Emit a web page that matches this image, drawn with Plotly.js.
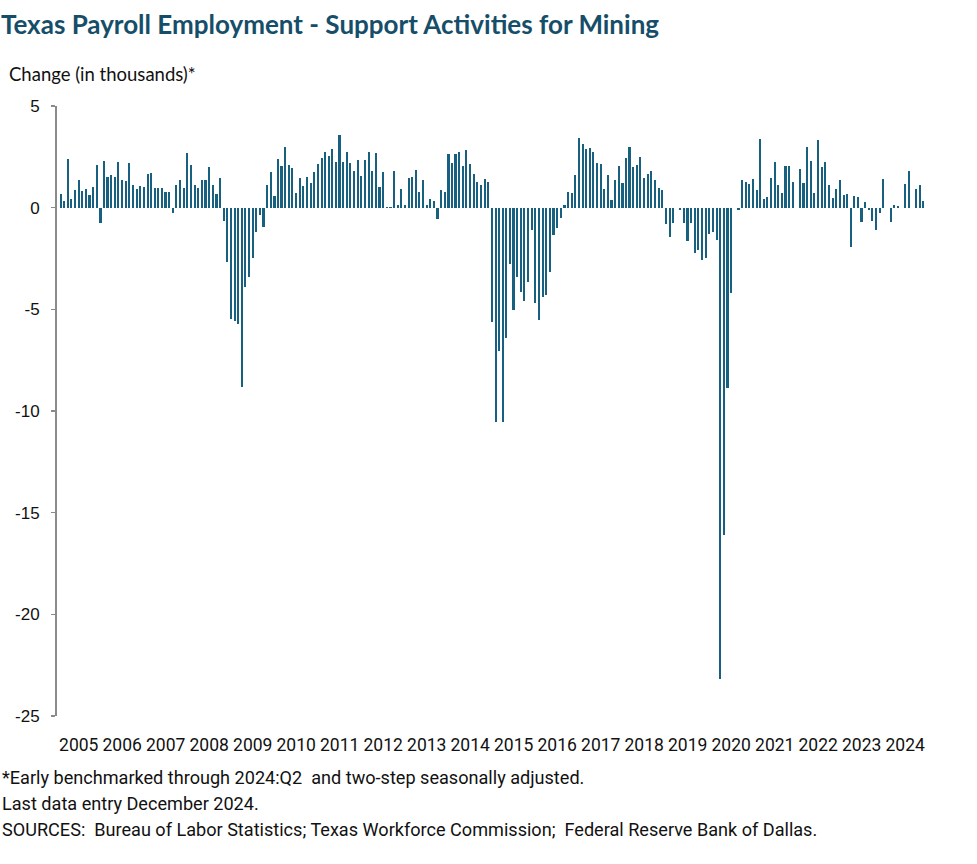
<!DOCTYPE html>
<html><head><meta charset="utf-8">
<script src="https://cdn.plot.ly/plotly-3.0.1.min.js"></script>
<style>html,body{margin:0;padding:0;background:#fff}#chart{width:977px;height:864px}</style>
</head><body><div id="chart"></div>
<script>
const chartTitle = 'Texas Payroll Employment - Support Activities for Mining';
const yAxisTitle = 'Change (in thousands)*';
const footNotes = [
  '*Early benchmarked through 2024:Q2  and two-step seasonally adjusted.',
  'Last data entry December 2024.',
  'SOURCES:  Bureau of Labor Statistics; Texas Workforce Commission;  Federal Reserve Bank of Dallas.'
];
// Monthly change (thousands); 2005 starts in February
const years = [2005,2006,2007,2008,2009,2010,2011,2012,2013,2014,2015,2016,2017,2018,2019,2020,2021,2022,2023,2024];
const firstMonthOf2005 = 2;
const chg2005 = [0.69,0.34,2.38,0.44,0.89,1.38,0.84,0.93,0.64,1.03,2.08];
const chg2006 = [-0.74,2.31,1.52,1.62,1.52,2.23,1.38,1.33,2.18,1.13,0.90,1.08];
const chg2007 = [1.00,1.64,1.72,0.98,0.98,0.98,0.75,0.75,-0.25,1.13,1.38,0.98];
const chg2008 = [2.67,2.08,1.13,0.98,1.34,1.34,1.98,1.13,0.69,1.44,-0.67,-2.66];
const chg2009 = [-5.46,-5.56,-5.70,-8.84,-3.89,-3.39,-2.46,-1.18,-0.34,-0.93,1.13,1.74];
const chg2010 = [0.59,2.38,2.03,2.97,2.08,1.93,0.70,1.44,1.08,1.49,1.20,1.74];
const chg2011 = [2.13,2.43,2.72,2.52,2.87,2.23,3.56,2.23,2.72,2.18,1.79,2.33];
const chg2012 = [1.54,2.33,2.72,1.79,2.67,1.03,1.74,0.05,0.05,1.79,0.11,0.90];
const chg2013 = [0.11,1.44,1.49,1.84,0.79,1.34,0.11,0.41,0.34,-0.57,0.85,0.75];
const chg2014 = [2.62,2.18,2.62,2.72,2.03,2.82,2.13,1.64,1.25,1.10,1.39,1.25];
const chg2015 = [-5.61,-10.52,-7.03,-10.52,-6.39,-2.75,-5.02,-3.39,-4.13,-4.57,-3.64,-1.08];
const chg2016 = [-4.67,-5.51,-4.38,-4.28,-3.15,-1.33,-0.98,-0.52,0.15,0.79,0.74,1.62];
const chg2017 = [3.44,3.15,2.90,2.95,2.72,2.18,2.13,0.93,1.62,0.39,1.34,2.03];
const chg2018 = [1.23,2.43,3.00,2.02,2.08,2.48,1.44,1.67,1.79,1.34,0.95,0.85];
const chg2019 = [-0.79,-1.43,-0.74,0.00,-0.10,-0.74,-1.62,-0.74,-2.21,-2.07,-2.56,-2.46];
const chg2020 = [-1.28,-1.18,-1.57,-23.20,-16.10,-8.89,-4.18,0.00,-0.10,1.38,1.28,1.18];
const chg2021 = [1.43,0.89,3.39,0.44,0.54,1.48,2.23,1.13,0.74,2.03,2.03,1.28];
const chg2022 = [0.00,1.92,1.23,3.00,2.28,0.74,3.34,2.02,2.23,1.13,0.49,0.93];
const chg2023 = [1.38,0.64,0.69,-1.95,0.59,0.54,-0.69,0.30,-0.10,-0.64,-1.08,-0.25];
const chg2024 = [1.43,0.00,-0.69,0.15,0.10,0.00,1.18,1.82,0.00,0.93,1.13,0.34];
const yTickVals = [5,0,-5,-10,-15,-20,-25];
const yTickText = ['5','0','-5','-10','-15','-20','-25'];
const xRange = ['2005-01-01','2025-01-01'];
const yRange = [-25,5];

const byYear = [chg2005,chg2006,chg2007,chg2008,chg2009,chg2010,chg2011,chg2012,chg2013,chg2014,
  chg2015,chg2016,chg2017,chg2018,chg2019,chg2020,chg2021,chg2022,chg2023,chg2024];
const xDates = [], yVals = [];
years.forEach((yr, k) => {
  const startM = (k === 0) ? firstMonthOf2005 : 1;
  byYear[k].forEach((v, j) => {
    const m = startM + j;
    xDates.push(yr + '-' + String(m).padStart(2,'0') + '-01');
    yVals.push(v);
  });
});

const W = 977, H = 864;
const M = {l:57, r:50, t:106, b:148};
const plotW = W - M.l - M.r, plotH = H - M.t - M.b;
const px2xp = px => (px - M.l) / plotW;
const py2yp = py => (H - M.b - py) / plotH;
const zeroPos = (0 - yRange[0]) / (yRange[1] - yRange[0]);
const axisGray = '#8a8a8a';
const labelFont = 'Roboto, "Liberation Sans", sans-serif';

const data = [{
  type: 'bar', x: xDates, y: yVals,
  marker: {color: '#17607f', line: {width: 0}},
  width: 1.5e9, hoverinfo: 'x+y'
}];

const annotations = [{
  text: yAxisTitle, xref: 'paper', yref: 'paper', x: px2xp(7), y: py2yp(74),
  xanchor: 'left', yanchor: 'middle', showarrow: false,
  font: {family: 'Lato, "Open Sans", sans-serif', size: 18.5, color: '#111'}
}];
const noteY = [777, 803, 829];
footNotes.forEach((t, i) => annotations.push({
  text: t, xref: 'paper', yref: 'paper', x: px2xp(0), y: py2yp(noteY[i]),
  xanchor: 'left', yanchor: 'middle', showarrow: false,
  font: {family: labelFont, size: 18.1, color: '#111'}
}));

const layout = {
  width: W, height: H, margin: M,
  paper_bgcolor: '#fff', plot_bgcolor: '#fff',
  showlegend: false, bargap: 0,
  title: {text: '<b>' + chartTitle + '</b>', xref: 'container', yref: 'container',
    x: 0.001, xanchor: 'left', y: 1 - 25/H, yanchor: 'middle',
    font: {family: 'Lato, "Open Sans", sans-serif', size: 26, color: '#164e6a'}},
  xaxis: {
    type: 'date', range: xRange, dtick: 'M12', tick0: '2005-01-01',
    ticklabelmode: 'period', tickformat: '%Y', tickangle: 0,
    ticks: 'outside', ticklen: 13, tickcolor: 'rgba(0,0,0,0)',
    showline: false, showgrid: false, zeroline: false,
    tickfont: {family: labelFont, size: 17.5, color: '#111'}
  },
  xaxis2: {
    type: 'date', range: xRange, dtick: 'M12', tick0: '2005-01-01',
    overlaying: 'x', anchor: 'free', position: zeroPos, side: 'bottom',
    ticks: 'outside', ticklen: 6, tickwidth: 2, tickcolor: axisGray,
    showticklabels: false, showline: true, linecolor: axisGray, linewidth: 2,
    showgrid: false, zeroline: false
  },
  yaxis: {
    range: yRange, tickvals: yTickVals, ticktext: yTickText,
    ticks: 'outside', ticklen: 4, tickwidth: 1.5, tickcolor: axisGray,
    showline: true, linecolor: axisGray, linewidth: 2,
    showgrid: false, zeroline: false, ticklabelstandoff: 8,
    tickfont: {family: '"Liberation Sans", Arial, sans-serif', size: 17, color: '#111'}
  },
  annotations: annotations
};

Plotly.newPlot('chart', data, layout, {staticPlot: true, displayModeBar: false});
</script>
</body></html>
